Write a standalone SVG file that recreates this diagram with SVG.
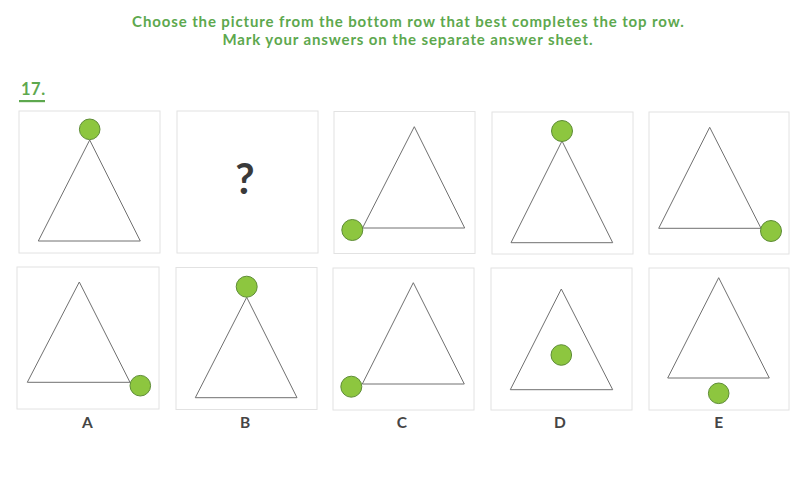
<svg xmlns="http://www.w3.org/2000/svg" width="812" height="487" viewBox="0 0 812 487">
<style>
.bg{fill:#fff}
.title{font-family:Lato,"Open Sans","Liberation Sans",sans-serif;font-weight:bold;font-size:15px;letter-spacing:0.88px;fill:#5da84e;text-anchor:middle}
.num{font-family:Lato,"Open Sans","Liberation Sans",sans-serif;font-weight:bold;font-size:16.5px;letter-spacing:0.5px;fill:#5da84e}
.box{fill:#fff;stroke:#e2e2e2;stroke-width:1}
.tri{fill:none;stroke:#707070;stroke-width:1}
.dot{fill:#8dc63f;stroke:#5e8c36;stroke-width:1}
.lbl{font-family:Lato,"Open Sans","Liberation Sans",sans-serif;font-weight:bold;font-size:15.5px;fill:#454545;text-anchor:middle}
.q{font-family:Lato,"Open Sans","Liberation Sans",sans-serif;font-weight:bold;font-size:42px;fill:#3a3a3a;text-anchor:middle}
</style>
<rect class="bg" width="812" height="487"/>
<text class="title" x="408.4" y="27">Choose the picture from the bottom row that best completes the top row.</text>
<text class="title" x="407.9" y="44.5">Mark your answers on the separate answer sheet.</text>
<text class="num" x="21" y="95">17.</text>
<rect x="19" y="100" width="26" height="2.2" fill="#5da84e"/>

<g id="top1">
<rect class="box" x="19" y="111" width="141" height="142"/>
<polygon class="tri" points="89.7,140 38.3,241 140.3,241"/>
<circle class="dot" cx="89.7" cy="129.3" r="10.3"/>
</g>
<g id="top2">
<rect class="box" x="177" y="111" width="141" height="142"/>
<text class="q" x="245" y="194">?</text>
</g>
<g id="top3">
<rect class="box" x="334" y="111.5" width="141" height="142"/>
<polygon class="tri" points="414.3,126.7 362.5,228 464.7,228"/>
<circle class="dot" cx="352.3" cy="230" r="10.5"/>
</g>
<g id="top4">
<rect class="box" x="492" y="112" width="141" height="142"/>
<polygon class="tri" points="562,141 511,242.7 612.7,242.7"/>
<circle class="dot" cx="562" cy="131" r="10.5"/>
</g>
<g id="top5">
<rect class="box" x="649" y="112" width="140" height="142"/>
<polygon class="tri" points="709.7,127.3 658.7,228.3 761,228.3"/>
<circle class="dot" cx="771" cy="231" r="10.5"/>
</g>

<g id="optA">
<rect class="box" x="17" y="267" width="142" height="142"/>
<polygon class="tri" points="79.3,282 27.3,382.3 130,382.3"/>
<circle class="dot" cx="140.3" cy="385.7" r="10.3"/>
<text class="lbl" x="87.3" y="428">A</text>
</g>
<g id="optB">
<rect class="box" x="176" y="267.5" width="141" height="142"/>
<polygon class="tri" points="246.7,297.3 195.3,397.7 297,397.7"/>
<circle class="dot" cx="246.7" cy="286.7" r="10.5"/>
<text class="lbl" x="245" y="428">B</text>
</g>
<g id="optC">
<rect class="box" x="333" y="268" width="141" height="142"/>
<polygon class="tri" points="413.3,282.7 362.3,384 464.3,384"/>
<circle class="dot" cx="351.3" cy="386.7" r="10.5"/>
<text class="lbl" x="402" y="428">C</text>
</g>
<g id="optD">
<rect class="box" x="491" y="268" width="141" height="142"/>
<polygon class="tri" points="561.3,289 510.3,389.7 612.7,389.7"/>
<circle class="dot" cx="561.3" cy="355" r="10.3"/>
<text class="lbl" x="560" y="428">D</text>
</g>
<g id="optE">
<rect class="box" x="649" y="268" width="140" height="142"/>
<polygon class="tri" points="718.7,277.7 667.7,378 769.3,378"/>
<circle class="dot" cx="718.7" cy="393.3" r="10.3"/>
<text class="lbl" x="718.7" y="428">E</text>
</g>
</svg>
